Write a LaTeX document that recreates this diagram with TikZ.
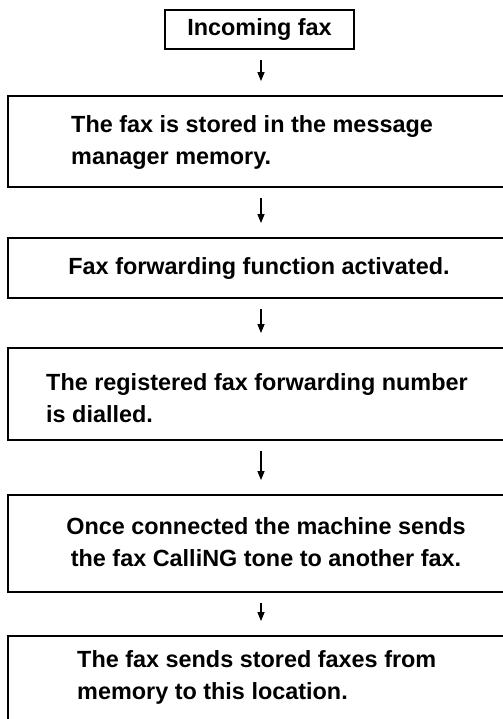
\documentclass[tikz,border=0pt]{standalone}
\usepackage{fontspec}
\setmainfont{Liberation Sans}
\usetikzlibrary{arrows.meta}
\begin{document}
\begin{tikzpicture}[x=1bp,y=-1bp,
  box/.style={draw,line width=1.8bp,inner sep=0,minimum width=507bp},
  txt/.style={font=\bfseries\fontsize{23.5}{32}\selectfont,inner sep=0,align=left},
  flow/.style={-{Triangle[length=9bp,width=7bp]},line width=1.2bp,shorten <=10bp,shorten >=14bp}]
\useasboundingbox (0,0) rectangle (503,719);
\clip (0,0) rectangle (503,719);
\node[draw,line width=1.8bp,inner sep=0,minimum width=189bp,minimum height=39bp] (in) at (259.5,29.5) {};
\node[txt] (tin) at (259.5,29.5) {Incoming fax};
\node[box,minimum height=91bp] (b2) at (261.5,141.5) {};
\node[txt,anchor=west] (t2) at (71,142.5) {The fax is stored in the message\\manager memory.};
\node[box,minimum height=60bp] (b3) at (261.5,268) {};
\node[txt] (t3) at (259,268) {Fax forwarding function activated.};
\node[box,minimum height=92bp] (b4) at (261.5,394) {};
\node[txt,anchor=west] (t4) at (46,398) {The registered fax forwarding number\\is dialled.};
\node[box,minimum height=97bp] (b5) at (261.5,543.5) {};
\node[txt,align=center] (t5) at (266,542) {Once connected the machine sends\\the fax CalliNG tone to another fax.};
\node[box,minimum height=104bp] (b6) at (261.5,688) {};
\node[txt,anchor=west] (t6) at (77,677) {The fax sends stored faxes from\\memory to this location.};
\coordinate (ax) at (261,0);
\draw[flow] (in.south -| ax) -- (ax |- b2.north);
\draw[flow] (b2.south -| ax) -- (ax |- b3.north);
\draw[flow] (b3.south -| ax) -- (ax |- b4.north);
\draw[flow] (b4.south -| ax) -- (ax |- b5.north);
\draw[flow] (b5.south -| ax) -- (ax |- b6.north);
\end{tikzpicture}
\end{document}
